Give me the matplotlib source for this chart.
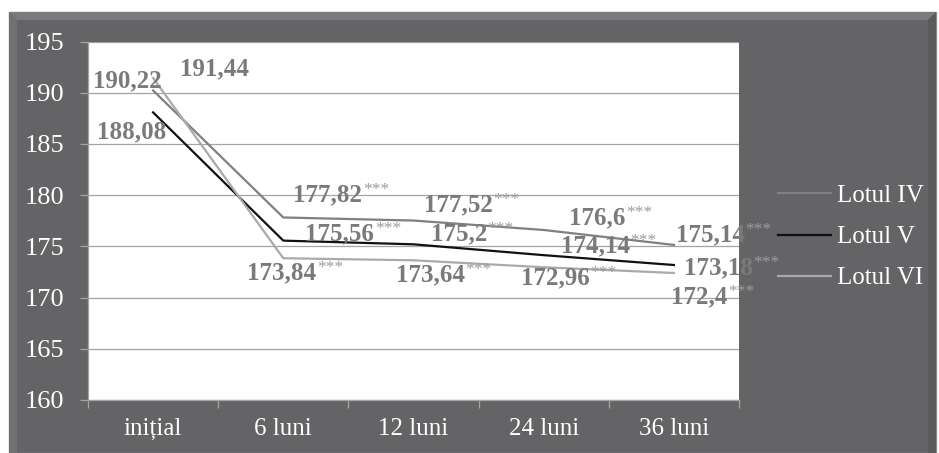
import matplotlib
matplotlib.use("Agg")
import matplotlib.pyplot as plt
from matplotlib.patches import Polygon
from matplotlib.font_manager import FontProperties

# ---- data ----
categories = ["inițial", "6 luni", "12 luni", "24 luni", "36 luni"]
series_names = ["Lotul IV", "Lotul V", "Lotul VI"]
lotul_iv = [190.22, 177.82, 177.52, 176.60, 175.14]
lotul_v = [188.08, 175.56, 175.20, 174.14, 173.18]
lotul_vi = [191.44, 173.84, 173.64, 172.96, 172.40]
significance = ["", "***", "***", "***", "***"]
y_ticks = [160, 165, 170, 175, 180, 185, 190, 195]

# ---- style ----
W, H, DPI = 939, 453, 100
BG = "#646466"
GRID = "#a4a4a4"
LABEL_GRAY = "#7a7a7c"
STAR_GRAY = "#9c9c9e"
line_colors = ["#808082", "#111111", "#aaaaaa"]
SERIF = ["Liberation Serif", "DejaVu Serif"]
plt.rcParams["font.family"] = SERIF
plt.rcParams["font.serif"] = SERIF

# label offsets in pixels (dx to left edge, dy upward) per series per category
label_offsets = [
    [(-60, 10), (10, 23), (10, 16), (25, 12), (2, 10)],
    [(-56, -19), (22, 7), (17, 10), (17, 9), (10, -3)],
    [(27, 9), (-36, -15), (-18, -15), (-23, -11), (-3, -24)],
]

fig = plt.figure(figsize=(W / DPI, H / DPI), dpi=DPI, facecolor="white")

# bevelled dark frame
def fx(px):
    return px / W

def fy(py):
    return 1 - py / H

x0, y0, x1, y1 = 9, 12, 936, 453
b = 8
frame = Polygon([(fx(x0), fy(y0)), (fx(x1), fy(y0)), (fx(x1), fy(y1)), (fx(x0), fy(y1))],
                closed=True, transform=fig.transFigure, facecolor=BG, edgecolor="#8c8c8e",
                linewidth=1.0, zorder=0)
fig.patches.append(frame)
bevels = [
    ([(x0, y0), (x1, y0), (x1 - b, y0 + b), (x0 + b, y0 + b)], "#7b7b7d"),
    ([(x0, y0), (x0 + b, y0 + b), (x0 + b, y1), (x0, y1)], "#717173"),
    ([(x1, y0), (x1, y1), (x1 - b, y1), (x1 - b, y0 + b)], "#5a5a5c"),
]
for pts, col in bevels:
    fig.patches.append(Polygon([(fx(px), fy(py)) for px, py in pts], closed=True,
                               transform=fig.transFigure, facecolor=col,
                               edgecolor="none", zorder=0))

ax = fig.add_axes([fx(88), fy(400), fx(739) - fx(88), fy(41.5) - fy(400)])
ax.set_facecolor("white")
ax.set_zorder(1)

xs = list(range(len(categories)))
all_series = [lotul_iv, lotul_v, lotul_vi]
for name, vals, col in zip(series_names, all_series, line_colors):
    ax.plot(xs, vals, color=col, lw=1.6, label=name, zorder=3, solid_joinstyle="round")

tick_font_y = FontProperties(family="Liberation Serif", size=19)
tick_font_x = FontProperties(family="Liberation Serif", size=18)

ax.set_ylim(160, 195)
ax.set_xlim(-0.5, len(categories) - 0.5)
ax.set_yticks(y_ticks)
ax.set_yticklabels([str(t) for t in y_ticks], fontproperties=tick_font_y, color="white")
ax.yaxis.grid(True, color=GRID, lw=0.9)
ax.set_axisbelow(True)

# category boundaries carry the tick marks, labels sit at the centers
ax.set_xticks([i - 0.5 for i in range(len(categories) + 1)])
ax.set_xticklabels([])
ax.set_xticks(xs, minor=True)
ax.set_xticklabels(categories, minor=True, fontproperties=tick_font_x, color="white")
ax.tick_params(axis="x", which="major", length=6, color=GRID, width=0.9)
ax.tick_params(axis="x", which="minor", length=0, pad=13)
ax.tick_params(axis="y", length=6, color=GRID, width=0.9, pad=11)
for side in ("top", "right"):
    ax.spines[side].set_visible(False)
for side in ("left", "bottom"):
    ax.spines[side].set_color(GRID)
    ax.spines[side].set_linewidth(0.9)

# value labels
for vals, offs in zip(all_series, label_offsets):
    for i, (v, (dx, dy)) in enumerate(zip(vals, offs)):
        txt = f"{v:.2f}".rstrip("0").rstrip(".").replace(".", ",")
        t = ax.annotate(txt, xy=(i, v), xytext=(dx * 0.72, dy * 0.72),
                        textcoords="offset points", ha="left", va="center",
                        fontweight="bold", fontsize=18,
                        color=LABEL_GRAY, annotation_clip=False, zorder=4)
        if significance[i]:
            ax.annotate(significance[i], xy=(1, 1), xycoords=t, xytext=(0.5, 1),
                        textcoords="offset points", ha="left", va="top",
                        fontsize=12.5, color=STAR_GRAY,
                        annotation_clip=False, zorder=4)

leg = fig.legend(loc="center left", bbox_to_anchor=(fx(778), fy(237)), frameon=False,
                 prop={"family": "Liberation Serif", "size": 18}, labelcolor="white",
                 handlelength=2.1, handletextpad=0.25, labelspacing=0.75,
                 borderpad=0, borderaxespad=0)

fig.savefig("out.png", dpi=DPI, facecolor="white")
